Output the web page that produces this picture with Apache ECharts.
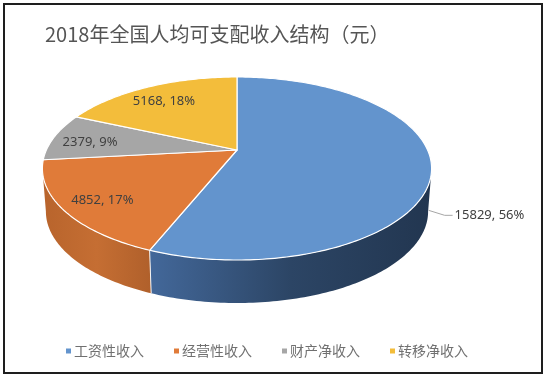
<!DOCTYPE html>
<html>
<head>
<meta charset="utf-8">
<script src="https://cdn.jsdelivr.net/npm/echarts@6/dist/echarts.min.js"></script>
<style>
html,body{margin:0;padding:0;background:#fff;}
#c{width:550px;height:379px;}
</style>
</head>
<body>
<div id="c"></div>
<script>
const titleText = '2018年全国人均可支配收入结构（元）';
const categories = ['工资性收入', '经营性收入', '财产净收入', '转移净收入'];
const values = [15829, 4852, 2379, 5168];
const percents = [56, 17, 9, 18];

const topColors = ['#6394cd', '#e07b39', '#a6a6a6', '#f3bd3b'];
const sideColors = [['#43689a', '#2c4565', '#223650'], ['#b8642c', '#c56e33', '#b0602b'], ['#8a8a8a', '#8a8a8a', '#8a8a8a'], ['#c99a2c', '#c99a2c', '#c99a2c']];

// projection of the tilted disc (perspective)
const CX = 237, CY = 150, A = 190.6, B = 87.8, K = 0.202, THICK = 43, SHRINK = 0.982;
function proj(thetaDeg, r, down) {
  const t = thetaDeg * Math.PI / 180;
  const X = r * Math.sin(t), Z = -r * Math.cos(t);
  const den = 1 - K * Z;
  let px = CX + A * X / den;
  let py = CY + B * Z / den;
  if (down) { px = CX + (px - CX) * SHRINK; py += THICK; }
  return [px, py];
}
const total = values.reduce((a, b) => a + b, 0);
const starts = [];
let acc = 0;
values.forEach(v => { starts.push(acc / total * 360); acc += v; });
const ends = values.map((v, i) => starts[i] + v / total * 360);
const TR = Math.acos(-K) * 180 / Math.PI, TL = 360 - TR;

function arc(a0, a1, down) {
  const pts = [];
  const n = Math.max(2, Math.ceil(Math.abs(a1 - a0)));
  for (let j = 0; j <= n; j++) pts.push(proj(a0 + (a1 - a0) * j / n, 1, down));
  return pts;
}

function makeRender(i) {
  return function () {
    const children = [];
    const a0 = starts[i], a1 = ends[i];
    // outer wall (front visible part)
    const s = Math.max(a0, TR), e = Math.min(a1, TL);
    if (e > s) {
      const pts = arc(s, e, false).concat(arc(e, s, true));
      children.push({
        type: 'polygon', shape: { points: pts },
        style: {
          fill: { type: 'linear', x: 1, y: 0, x2: 0, y2: 0, colorStops: [
            { offset: 0, color: sideColors[i][2] }, { offset: 0.5, color: sideColors[i][1] }, { offset: 1, color: sideColors[i][0] }] },
          stroke: null
        }
      });
      // side seam line at slice boundary
      if (a0 >= TR && a0 <= TL) {
        const p = proj(a0, 1, false), q = proj(a0, 1, true);
        children.push({ type: 'line', shape: { x1: p[0], y1: p[1], x2: q[0], y2: q[1] }, style: { stroke: '#f4f4f4', lineWidth: 1 } });
      }
    }
    // top face
    const topPts = [proj(0, 0, false)].concat(arc(a0, a1, false));
    children.push({ type: 'polygon', shape: { points: topPts }, style: { fill: topColors[i], stroke: '#ffffff', lineWidth: 1.2, lineJoin: 'round' } });
    const txt = values[i] + ', ' + percents[i] + '%';
    const mid = (a0 + a1) / 2;
    if (i === 0) {
      const p = proj(mid, 1, false);
      const ax = p[0] - 3, ay = p[1] + THICK;
      children.push({ type: 'polyline', shape: { points: [[ax, ay], [ax + 16, ay + 5], [ax + 24, ay + 5]] }, style: { stroke: '#a6a6a6', lineWidth: 1, fill: null } });
      children.push({ type: 'text', style: { text: txt, x: ax + 26, y: ay + 5, align: 'left', verticalAlign: 'middle', fill: '#404040', font: '13px "Noto Sans", sans-serif' } });
    } else {
      const p = proj(mid, 0.8, false);
      children.push({ type: 'text', style: { text: txt, x: p[0], y: p[1] + 3, align: 'center', verticalAlign: 'middle', fill: '#404040', font: '13px "Noto Sans", sans-serif' } });
    }
    return { type: 'group', children: children };
  };
}

const chart = echarts.init(document.getElementById('c'), null, { renderer: 'canvas' });
chart.setOption({
  backgroundColor: '#ffffff',
  animation: false,
  color: topColors,
  title: {
    text: titleText, left: 40, top: 19,
    textStyle: { fontFamily: '"Noto Sans CJK SC", sans-serif', fontSize: 20, fontWeight: 'normal', color: '#555555' }
  },
  legend: {
    data: categories, left: 61, top: 339, icon: 'rect', itemWidth: 5, itemHeight: 5, itemGap: 30,
    textStyle: { fontFamily: '"Noto Sans CJK SC", sans-serif', fontSize: 14, color: '#707070', padding: [0, 0, 0, -2] }
  },
  graphic: [{
    type: 'rect', shape: { x: 4, y: 4, width: 538, height: 369 },
    style: { fill: null, stroke: '#1e1e1e', lineWidth: 2 }, z: 100, silent: true
  }],
  series: categories.map((name, i) => ({
    type: 'custom', name: name, coordinateSystem: 'none',
    itemStyle: { color: topColors[i] },
    data: [values[i]],
    renderItem: makeRender(i),
    silent: true
  }))
});
</script>
</body>
</html>
